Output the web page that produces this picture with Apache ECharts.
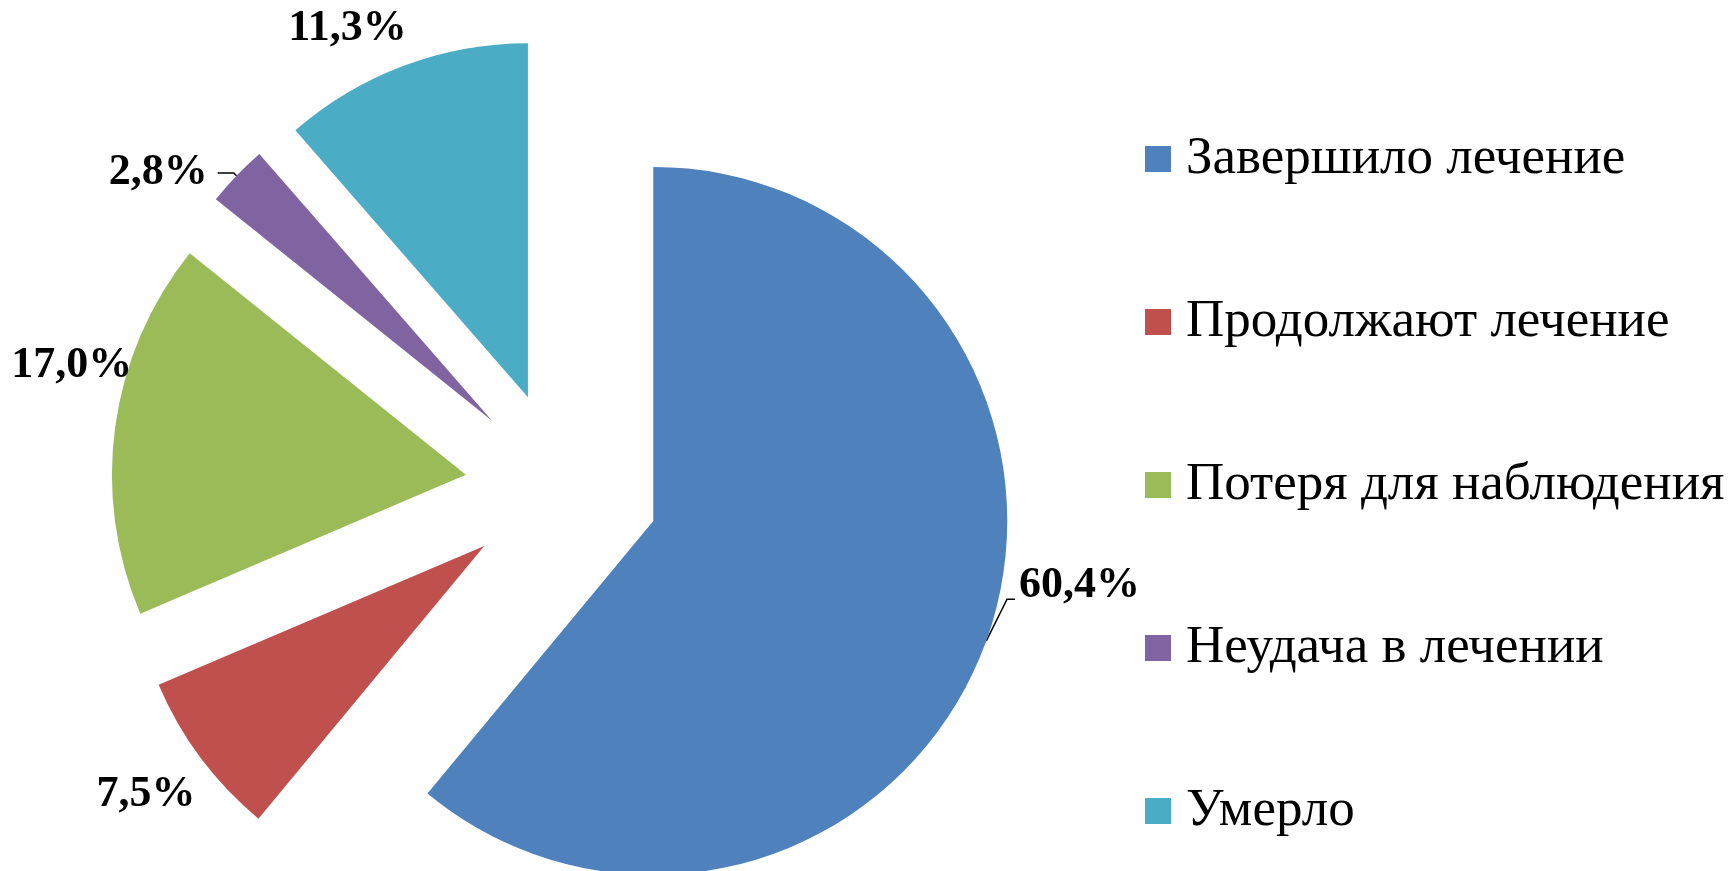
<!DOCTYPE html>
<html><head><meta charset="utf-8">
<script src="https://cdn.jsdelivr.net/npm/echarts@6/dist/echarts.min.js"></script>
<style>html,body{margin:0;padding:0;background:#fff}#chart{width:1733px;height:871px}</style>
</head><body><div id="chart"></div>
<script>
const categories = ['Завершило лечение', 'Продолжают лечение', 'Потеря для наблюдения', 'Неудача в лечении', 'Умерло'];
const values = [60.4, 7.5, 17.0, 2.8, 11.3];
const colors = ['#4F81BD', '#C0504D', '#9BBB59', '#8064A2', '#4BACC6'];

// label styling per slice: leader line visibility, lengths, distance, nudge
const showLine = [true, false, false, true, false];
const lineLen = [4, 0, 0, 4, 0];
const lineLen2 = [0, 0, 0, 16, 0];
const labelDist = [29, 5, -17, 10, -3];
const nudgeY = [-57, 37, -61, 0, -37];

const chart = echarts.init(document.getElementById('chart'), null, {renderer: 'canvas'});
const fmt = v => v.toFixed(1).replace('.', ',') + '%';

chart.setOption({
  animation: false,
  backgroundColor: '#fff',
  color: colors,
  legend: {
    data: categories,
    orient: 'vertical',
    left: 1145, top: 129,
    padding: 0,
    itemWidth: 26, itemHeight: 26,
    itemGap: 103,
    icon: 'rect',
    selectedMode: false,
    textStyle: {fontFamily: 'Liberation Serif', fontSize: 53, color: '#000', lineHeight: 60, padding: [0, 0, 0, 10]}
  },
  series: [{
    type: 'pie',
    center: [562, 488],
    radius: 354,
    startAngle: 90,
    clockwise: true,
    selectedMode: 'multiple',
    selectedOffset: 97,
    avoidLabelOverlap: false,
    emphasis: {disabled: true},
    label: {
      show: true, position: 'outside',
      formatter: p => fmt(p.value),
      fontFamily: 'Liberation Serif', fontWeight: 'bold', fontSize: 44, color: '#000'
    },
    labelLine: {lineStyle: {color: '#000', width: 1.5}},
    labelLayout: function (params) {
      const i = params.dataIndex;
      const out = {dy: nudgeY[i]};
      if (showLine[i] && params.labelLinePoints && i === 0) {
        const pts = params.labelLinePoints;
        const endX = pts[2][0] + labelDist[i] - 4;
        const endY = pts[2][1] + nudgeY[i] + 14;
        out.labelLinePoints = [pts[0], [endX - 8, endY], [endX, endY]];
      }
      return out;
    },
    data: categories.map((name, i) => ({
      name: name,
      value: values[i],
      selected: true,
      itemStyle: {color: colors[i]},
      label: {distanceToLabelLine: labelDist[i]},
      labelLine: {show: showLine[i], length: lineLen[i], length2: lineLen2[i]}
    }))
  }]
});
</script></body></html>
